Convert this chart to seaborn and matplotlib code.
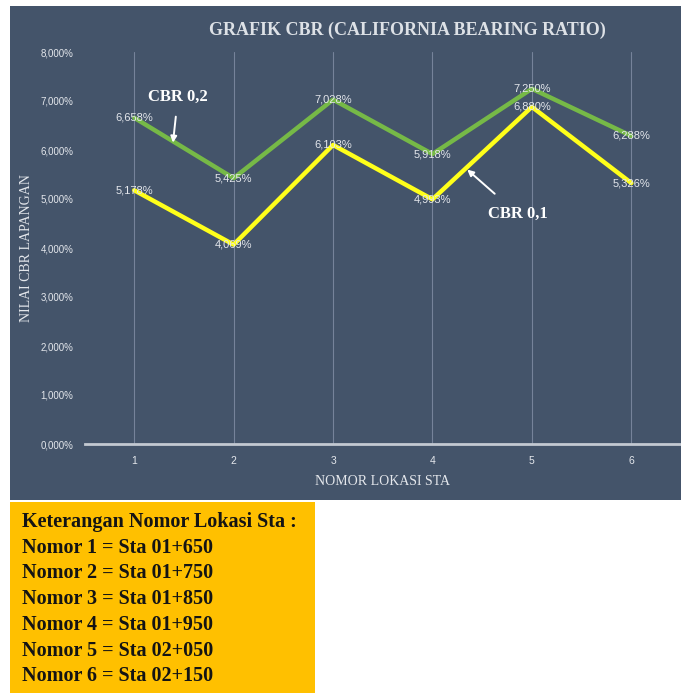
import numpy as np
import pandas as pd
import matplotlib
matplotlib.use("Agg")
import matplotlib.pyplot as plt
from matplotlib.patches import Rectangle
from matplotlib.ticker import FuncFormatter
import seaborn as sns

# data
lokasi = [1, 2, 3, 4, 5, 6]
cbr_02 = [6.658, 5.425, 7.028, 5.918, 7.250, 6.288]
cbr_01 = [5.178, 4.069, 6.103, 4.993, 6.880, 5.326]
keterangan = ["Sta 01+650", "Sta 01+750", "Sta 01+850",
              "Sta 01+950", "Sta 02+050", "Sta 02+150"]

PANEL = "#44546A"
TXT = "#E4E7EC"
GREEN = "#76B947"
YELLOW = "#FFFF1A"

sns.set_theme(style="white")
plt.rcParams["font.family"] = ["DejaVu Sans"]
SERIF = ["Liberation Serif", "DejaVu Serif"]
NARROW = ["Liberation Sans Narrow", "Liberation Sans", "DejaVu Sans"]

df = pd.DataFrame({
    "lokasi": lokasi * 2,
    "nilai": cbr_02 + cbr_01,
    "seri": ["CBR 0,2"] * len(lokasi) + ["CBR 0,1"] * len(lokasi),
})

fig = plt.figure(figsize=(6.81, 6.93), dpi=100)
fig.patch.set_facecolor("white")

# dark chart panel and yellow legend box behind the axes
fig.patches.append(Rectangle((10 / 681, 193 / 693), 671 / 681, 494 / 693,
                             transform=fig.transFigure, facecolor=PANEL,
                             edgecolor="none", zorder=-10))
fig.patches.append(Rectangle((10 / 681, 0), 305 / 681, 191 / 693,
                             transform=fig.transFigure, facecolor="#FFC000",
                             edgecolor="none", zorder=-10))

ax = fig.add_axes([84.5 / 681, 249 / 693, 596.5 / 681, 392 / 693])
ax.set_facecolor("none")
ax.set_zorder(5)

sns.lineplot(data=df, x="lokasi", y="nilai", hue="seri",
             palette={"CBR 0,2": GREEN, "CBR 0,1": YELLOW},
             linewidth=3.2, legend=False, ax=ax, zorder=3)

ax.set_xlim(0.5, 6.5)
ax.set_ylim(0, 8)
ax.set_xticks(lokasi)
ax.set_yticks(np.arange(0, 9, 1))
ax.yaxis.set_major_formatter(FuncFormatter(lambda v, p: f"{v:.3f}%".replace(".", ",")))

ax.grid(False)
ax.xaxis.grid(True, color="#76839A", linewidth=0.8)
for s in ["top", "right", "left"]:
    ax.spines[s].set_visible(False)
ax.spines["bottom"].set_color("#C3C9D2")
ax.spines["bottom"].set_linewidth(2)
ax.tick_params(axis="both", length=0, colors=TXT)
ax.tick_params(axis="y", pad=8)
ax.tick_params(axis="x", pad=9)
for lab in ax.get_yticklabels():
    lab.set_family(NARROW)
    lab.set_fontsize(7)
for lab in ax.get_xticklabels():
    lab.set_family(NARROW)
    lab.set_fontsize(7.5)

ax.set_xlabel("NOMOR LOKASI STA", family=SERIF, fontsize=10, color=TXT, labelpad=6)
ax.set_ylabel("NILAI CBR LAPANGAN", family=SERIF, fontsize=10, color=TXT, labelpad=3)
ax.yaxis.set_label_coords(-0.087, 0.5)

# value labels centred on each point
for xs, ys in [(lokasi, cbr_02), (lokasi, cbr_01)]:
    for x, y in zip(xs, ys):
        ax.text(x, y, f"{y:.3f}%".replace(".", ","), ha="center", va="center",
                family=NARROW, fontsize=8, color=TXT, zorder=4)

# series call-outs
ax.annotate("CBR 0,2", xy=(1.39, 6.15), xytext=(1.44, 7.08),
            ha="center", va="center", family=SERIF, fontweight="bold",
            fontsize=12, color="white",
            arrowprops=dict(arrowstyle="-|>", color="white", lw=1.4,
                            shrinkA=6, shrinkB=0, mutation_scale=9))
ax.annotate("CBR 0,1", xy=(4.35, 5.6), xytext=(4.86, 4.69),
            ha="center", va="center", family=SERIF, fontweight="bold",
            fontsize=12, color="white",
            arrowprops=dict(arrowstyle="-|>", color="white", lw=1.4,
                            shrinkA=10, shrinkB=0, mutation_scale=9))

fig.text(407 / 681, 1 - 30 / 693, "GRAFIK CBR (CALIFORNIA BEARING RATIO)",
         ha="center", va="center", family=SERIF, fontweight="bold",
         fontsize=13, color="#DDE1E6")

# legend box text
box_lines = ["Keterangan Nomor Lokasi Sta :"] + \
    [f"Nomor {n} = {s}" for n, s in zip(lokasi, keterangan)]
for i, line in enumerate(box_lines):
    fig.text(22 / 681, 1 - (522 + i * 25.7) / 693, line, ha="left", va="center",
             family=SERIF, fontweight="bold", fontsize=14.5, color="#141414")

fig.savefig("out.png", dpi=100)
